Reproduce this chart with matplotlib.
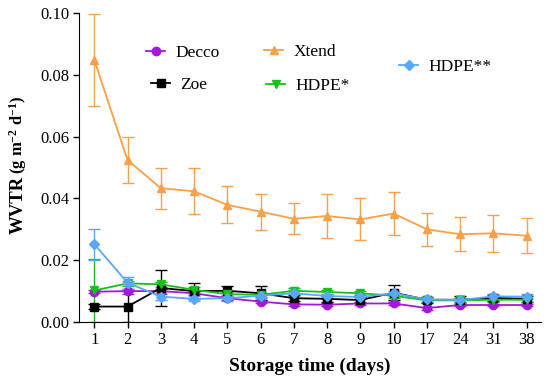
import matplotlib
matplotlib.use("Agg")
import matplotlib.pyplot as plt
from matplotlib.lines import Line2D
from matplotlib.legend import Legend

plt.rcParams['font.family'] = ['Liberation Serif', 'DejaVu Serif']
plt.rcParams['mathtext.default'] = 'regular'

days = ['1', '2', '3', '4', '5', '6', '7', '8', '9', '10', '17', '24', '31', '38']

decco = [0.0098, 0.0100, 0.0100, 0.0093, 0.0077, 0.0066, 0.0057, 0.0056, 0.0060, 0.0060, 0.0045, 0.0055, 0.0055, 0.0055]
decco_err = [0.0005, 0.0008, 0.0008, 0.0006, 0.0007, 0.0006, 0.0005, 0.0005, 0.0005, 0.0005, 0.0005, 0.0004, 0.0004, 0.0004]

xtend = [0.0848, 0.0524, 0.0433, 0.0423, 0.0379, 0.0357, 0.0334, 0.0343, 0.0332, 0.0351, 0.0300, 0.0284, 0.0287, 0.0279]
xtend_err = [0.0150, 0.0075, 0.0067, 0.0075, 0.0060, 0.0058, 0.0050, 0.0070, 0.0068, 0.0070, 0.0054, 0.0055, 0.0059, 0.0056]

zoe = [0.0050, 0.0050, 0.0110, 0.0100, 0.0101, 0.0093, 0.0077, 0.0075, 0.0071, 0.0095, 0.0072, 0.0072, 0.0078, 0.0075]
zoe_err = [0.0008, 0.0050, 0.0057, 0.0025, 0.0016, 0.0023, 0.0010, 0.0010, 0.0010, 0.0025, 0.0010, 0.0012, 0.0010, 0.0010]

hdpe1 = [0.0102, 0.0125, 0.0122, 0.0104, 0.0090, 0.0088, 0.0101, 0.0097, 0.0093, 0.0085, 0.0070, 0.0070, 0.0072, 0.0072]
hdpe1_err = [0.0102, 0.0008, 0.0008, 0.0008, 0.0007, 0.0007, 0.0008, 0.0008, 0.0007, 0.0007, 0.0006, 0.0006, 0.0006, 0.0006]

hdpe2 = [0.0252, 0.0127, 0.0082, 0.0075, 0.0077, 0.0085, 0.0093, 0.0084, 0.0081, 0.0093, 0.0073, 0.0071, 0.0083, 0.0082]
hdpe2_err = [0.0050, 0.0020, 0.0012, 0.0008, 0.0008, 0.0008, 0.0010, 0.0008, 0.0008, 0.0008, 0.0008, 0.0008, 0.0008, 0.0008]

series = [
    ('Xtend', xtend, xtend_err, '#F9A04A', '^'),
    ('Decco', decco, decco_err, '#A21AD8', 'o'),
    ('Zoe', zoe, zoe_err, '#000000', 's'),
    ('HDPE*', hdpe1, hdpe1_err, '#16C016', 'v'),
    ('HDPE**', hdpe2, hdpe2_err, '#5AA8F5', 'D'),
]

W, H = 550, 385
fig = plt.figure(figsize=(5.5, 3.85), dpi=100)
ax = fig.add_axes([79 / W, 1 - 322 / H, 462 / W, 309 / H])

x = list(range(len(days)))
for name, y, e, c, m in series:
    ax.errorbar(x, y, yerr=e, color=c, marker=m, markersize=6 if m != 'D' else 5.5,
                linewidth=1.3, elinewidth=1.0, capsize=4, capthick=1.0, label=name)

ax.set_xlim(-0.46, 13.43)
ax.set_ylim(0, 0.10)
ax.set_xticks(x)
ax.set_xticklabels(days)
ax.set_yticks([0, 0.02, 0.04, 0.06, 0.08, 0.10])
ax.set_yticklabels(['0.00', '0.02', '0.04', '0.06', '0.08', '0.10'])
ax.tick_params(axis='both', labelsize=12, direction='out', length=4, width=1, pad=3)
ax.spines['top'].set_visible(False)
ax.spines['right'].set_visible(False)
ax.set_xlabel('Storage time (days)', fontsize=14, fontweight='bold', labelpad=7)

fig.text(18 / W, 1 - 234 / H, 'WVTR', rotation=90, ha='center', va='bottom',
         fontsize=13.5, fontweight='bold')
fig.text(18 / W, 1 - 174 / H, r'(g m$^{-2}$ d$^{-1}$)', rotation=90, ha='center', va='bottom',
         fontsize=12, fontweight='bold')

def h(c, m):
    return Line2D([], [], color=c, marker=m, markersize=6 if m != 'D' else 5.5, linewidth=1.3)

cols = {s[0]: (s[3], s[4]) for s in series}
legpos = {
    'Decco': (146, 52.7),
    'Zoe': (151, 85),
    'Xtend': (264, 51.7),
    'HDPE*': (266, 86),
    'HDPE**': (399, 66.7),
}
for name in ['Decco', 'Zoe', 'Xtend', 'HDPE*', 'HDPE**']:
    px, py = legpos[name]
    lg = Legend(ax, [h(*cols[name])], [name], frameon=False, fontsize=12.5,
                loc='center left',
                bbox_to_anchor=((px - 79) / 462, (322 - py) / 309),
                bbox_transform=ax.transAxes,
                borderpad=0, borderaxespad=0, handlelength=1.1, handletextpad=0.6)
    ax.add_artist(lg)

fig.savefig('out.png', dpi=100)
